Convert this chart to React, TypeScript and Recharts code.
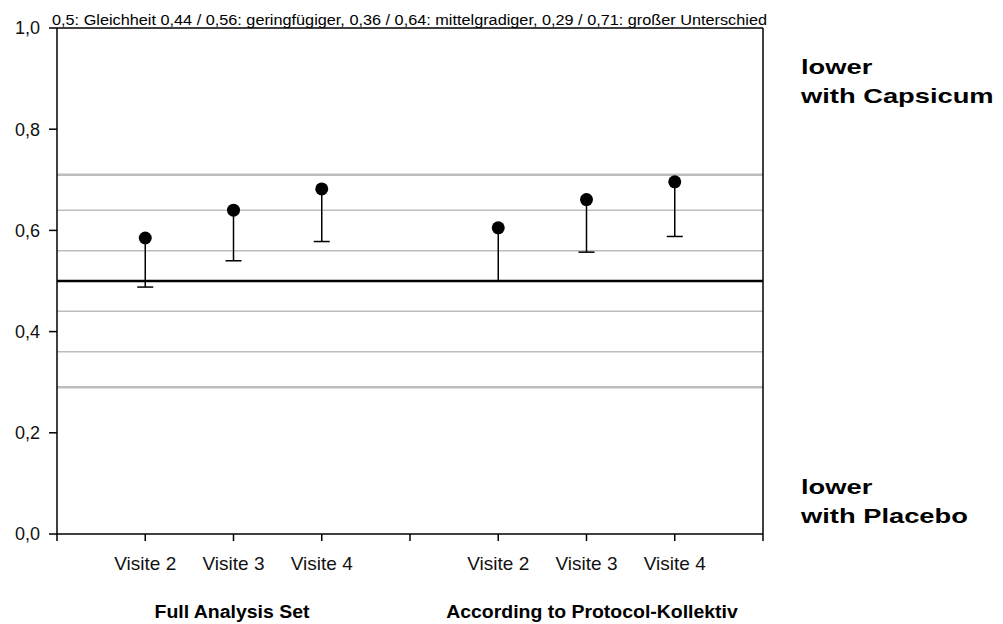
import React from "react";
import {
  ScatterChart,
  Scatter,
  XAxis,
  YAxis,
  ReferenceLine,
  ErrorBar,
} from "recharts";

// x positions 0..8, labels only where a visit sits
const xLabels = ["", "Visite 2", "Visite 3", "Visite 4", "", "Visite 2", "Visite 3", "Visite 4", ""];
const xTicks = [0, 1, 2, 3, 4, 5, 6, 7, 8];
const yTicks = [0, 0.2, 0.4, 0.6, 0.8, 1.0];

const fasPositions = [1, 2, 3];
const fasValues = [0.585, 0.64, 0.682];
const fasLower = [0.488, 0.54, 0.578];

const ppPositions = [5, 6, 7];
const ppValues = [0.605, 0.661, 0.696];
const ppLower = [0.5, 0.557, 0.588];

const boundaries = [0.29, 0.36, 0.44, 0.56, 0.64, 0.71];
const equality = 0.5;

const groupLabels = ["Full Analysis Set", "According to Protocol-Kollektiv"];
const sideLabels = [
  ["lower", "with Capsicum"],
  ["lower", "with Placebo"],
];
const titleText =
  "0,5: Gleichheit  0,44 / 0,56: geringfügiger, 0,36 / 0,64: mittelgradiger, 0,29 / 0,71: großer Unterschied";

const FONT = "'Liberation Sans', Arial, sans-serif";

// points with a one-sided (downward) whisker
const toRows = (pos: number[], vals: number[], low: number[]) =>
  pos.map((x, i) => ({ x, value: vals[i], err: [vals[i] - low[i], 0] }));
// lower bounds, drawn as caps only
const toCaps = (pos: number[], low: number[]) =>
  pos.map((x, i) => ({ x, value: low[i] }));

const fasData = toRows(fasPositions, fasValues, fasLower);
const ppData = toRows(ppPositions, ppValues, ppLower);
const capData = [...toCaps(fasPositions, fasLower), ...toCaps(ppPositions, ppLower)];

const Dot = (props: any) => {
  const { cx, cy } = props;
  if (cx == null || cy == null) return null;
  return <circle cx={cx} cy={cy} r={6.5} fill="#000" />;
};

const Cap = (props: any) => {
  const { cx, cy } = props;
  if (cx == null || cy == null) return null;
  return <line x1={cx - 8} x2={cx + 8} y1={cy} y2={cy} stroke="#000" strokeWidth={1.5} />;
};

const TitleLabel = (props: any) => {
  const vb = props.viewBox || {};
  const x = (vb.x ?? 57) - 5;
  const y = (vb.y ?? 28) - 3;
  return (
    <text
      x={x}
      y={y}
      fontSize={14}
      fontFamily={FONT}
      fill="#000"
      textLength={715}
      lengthAdjust="spacingAndGlyphs"
    >
      {titleText}
    </text>
  );
};

const fmtY = (v: number) => v.toFixed(1).replace(".", ",");

export default function App() {
  return (
    <div
      style={{
        position: "absolute",
        left: 0,
        top: 0,
        width: 1003,
        height: 624,
        background: "#fff",
        fontFamily: FONT,
      }}
    >
      <ScatterChart
        width={1003}
        height={624}
        margin={{ top: 28, right: 240, bottom: 30, left: 0 }}
      >
        <XAxis
          type="number"
          dataKey="x"
          domain={[0, 8]}
          ticks={xTicks}
          tickFormatter={(v) => xLabels[v] ?? ""}
          interval={0}
          height={60}
          stroke="#000"
          strokeWidth={1.5}
          tickSize={7}
          tickMargin={16}
          tick={{ fontSize: 19, fill: "#111", fontFamily: FONT }}
        />
        <YAxis
          type="number"
          dataKey="value"
          domain={[0, 1]}
          ticks={yTicks}
          tickFormatter={fmtY}
          width={57}
          stroke="#000"
          strokeWidth={1.5}
          tickSize={8}
          tickMargin={9}
          tick={{ fontSize: 18, fill: "#111", fontFamily: FONT }}
        />
        {boundaries.map((b) => (
          <ReferenceLine
            key={b}
            y={b}
            stroke="#bdbdbd"
            strokeWidth={b === 0.29 || b === 0.71 ? 2.5 : 1.5}
          />
        ))}
        <ReferenceLine y={equality} stroke="#000" strokeWidth={2.5} />
        <ReferenceLine y={1} stroke="#000" strokeWidth={1.5} label={TitleLabel} />
        <ReferenceLine x={8} stroke="#000" strokeWidth={1.5} />
        <Scatter data={capData} shape={Cap} isAnimationActive={false} />
        <Scatter data={fasData} shape={Dot} isAnimationActive={false}>
          <ErrorBar dataKey="err" direction="y" width={0} stroke="#000" strokeWidth={1.5} />
        </Scatter>
        <Scatter data={ppData} shape={Dot} isAnimationActive={false}>
          <ErrorBar dataKey="err" direction="y" width={0} stroke="#000" strokeWidth={1.5} />
        </Scatter>
      </ScatterChart>

      {groupLabels.map((g, i) => (
        <div
          key={g}
          style={{
            position: "absolute",
            top: 602,
            left: i === 0 ? 232 : 592,
            transform: "translateX(-50%) scaleX(1.08)",
            fontSize: 18,
            fontWeight: "bold",
            whiteSpace: "nowrap",
            color: "#000",
          }}
        >
          {g}
        </div>
      ))}

      {sideLabels.map((lines, i) => (
        <div
          key={i}
          style={{
            position: "absolute",
            left: 801,
            top: i === 0 ? 51.5 : 471.5,
            fontSize: 21,
            lineHeight: "29px",
            fontWeight: "bold",
            transform: "scaleX(1.3)",
            transformOrigin: "left top",
            whiteSpace: "nowrap",
            color: "#000",
          }}
        >
          {lines.map((l) => (
            <div key={l}>{l}</div>
          ))}
        </div>
      ))}
    </div>
  );
}
